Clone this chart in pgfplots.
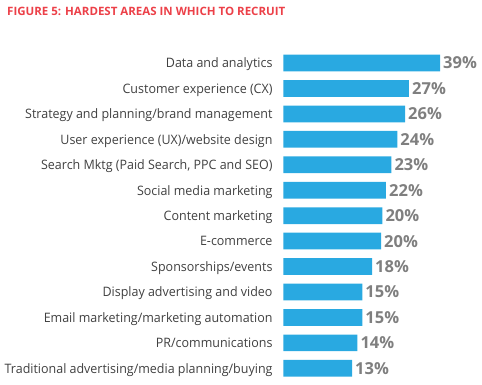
\documentclass[border=0pt]{standalone}
\usepackage{fontspec}
\setmainfont{Open Sans}
\newfontfamily\catfont[FakeStretch=0.96]{Open Sans}
\usepackage{pgfplots}
\pgfplotsset{compat=1.18}
\definecolor{barblue}{HTML}{29A9E1}
\definecolor{titlered}{HTML}{EC4048}
\definecolor{labgray}{HTML}{7F7F7F}
\definecolor{catgray}{HTML}{404040}
\begin{document}
\begin{tikzpicture}[x=1pt,y=1pt]
\path[use as bounding box] (0,0) rectangle (482,-384);
\node[anchor=base west, inner sep=0pt, text=titlered, font=\fontsize{11.5}{13}\selectfont\bfseries] at (7,-15) {FIGURE 5: HARDEST AREAS IN WHICH TO RECRUIT};
\begin{axis}[
  at={(283.3pt,-381pt)}, anchor=south west,
  scale only axis, width=156.7pt, height=330.7pt,
  xmin=0, xmax=39, ymin=-0.5, ymax=12.5, y dir=reverse,
  xbar, bar width=16.7pt,
  axis line style={draw=none}, xtick=\empty, ytick={0,...,12},
  yticklabels={Data and analytics, Customer experience (CX), Strategy and planning/brand management, User experience (UX)/website design, {Search Mktg (Paid Search, PPC and SEO)}, Social media marketing, Content marketing, E-commerce, Sponsorships/events, Display advertising and video, Email marketing/marketing automation, PR/communications, Traditional advertising/media planning/buying},
  major tick length=0pt,
  yticklabel style={anchor=base east, inner sep=0pt, xshift=-10.6pt, yshift=-4.8pt, font=\catfont\fontsize{13}{15}\selectfont, text=catgray},
  clip=false,
  nodes near coords={\pgfplotspointmeta\%},
  point meta=explicit symbolic,
  nodes near coords style={anchor=west, inner sep=0pt, xshift=3pt, font=\fontsize{16.5}{18}\selectfont\bfseries, text=labgray},
]
\addplot[fill=barblue, draw=none] table[x=len, y=idx, meta=lab] {
idx len lab
0 39.00 39
1 31.28 27
2 30.29 26
3 28.37 24
4 26.88 23
5 25.56 22
6 24.64 20
7 24.32 20
8 22.08 18
9 19.66 15
10 19.66 15
11 18.42 14
12 17.10 13
};
\end{axis}
\end{tikzpicture}
\end{document}
